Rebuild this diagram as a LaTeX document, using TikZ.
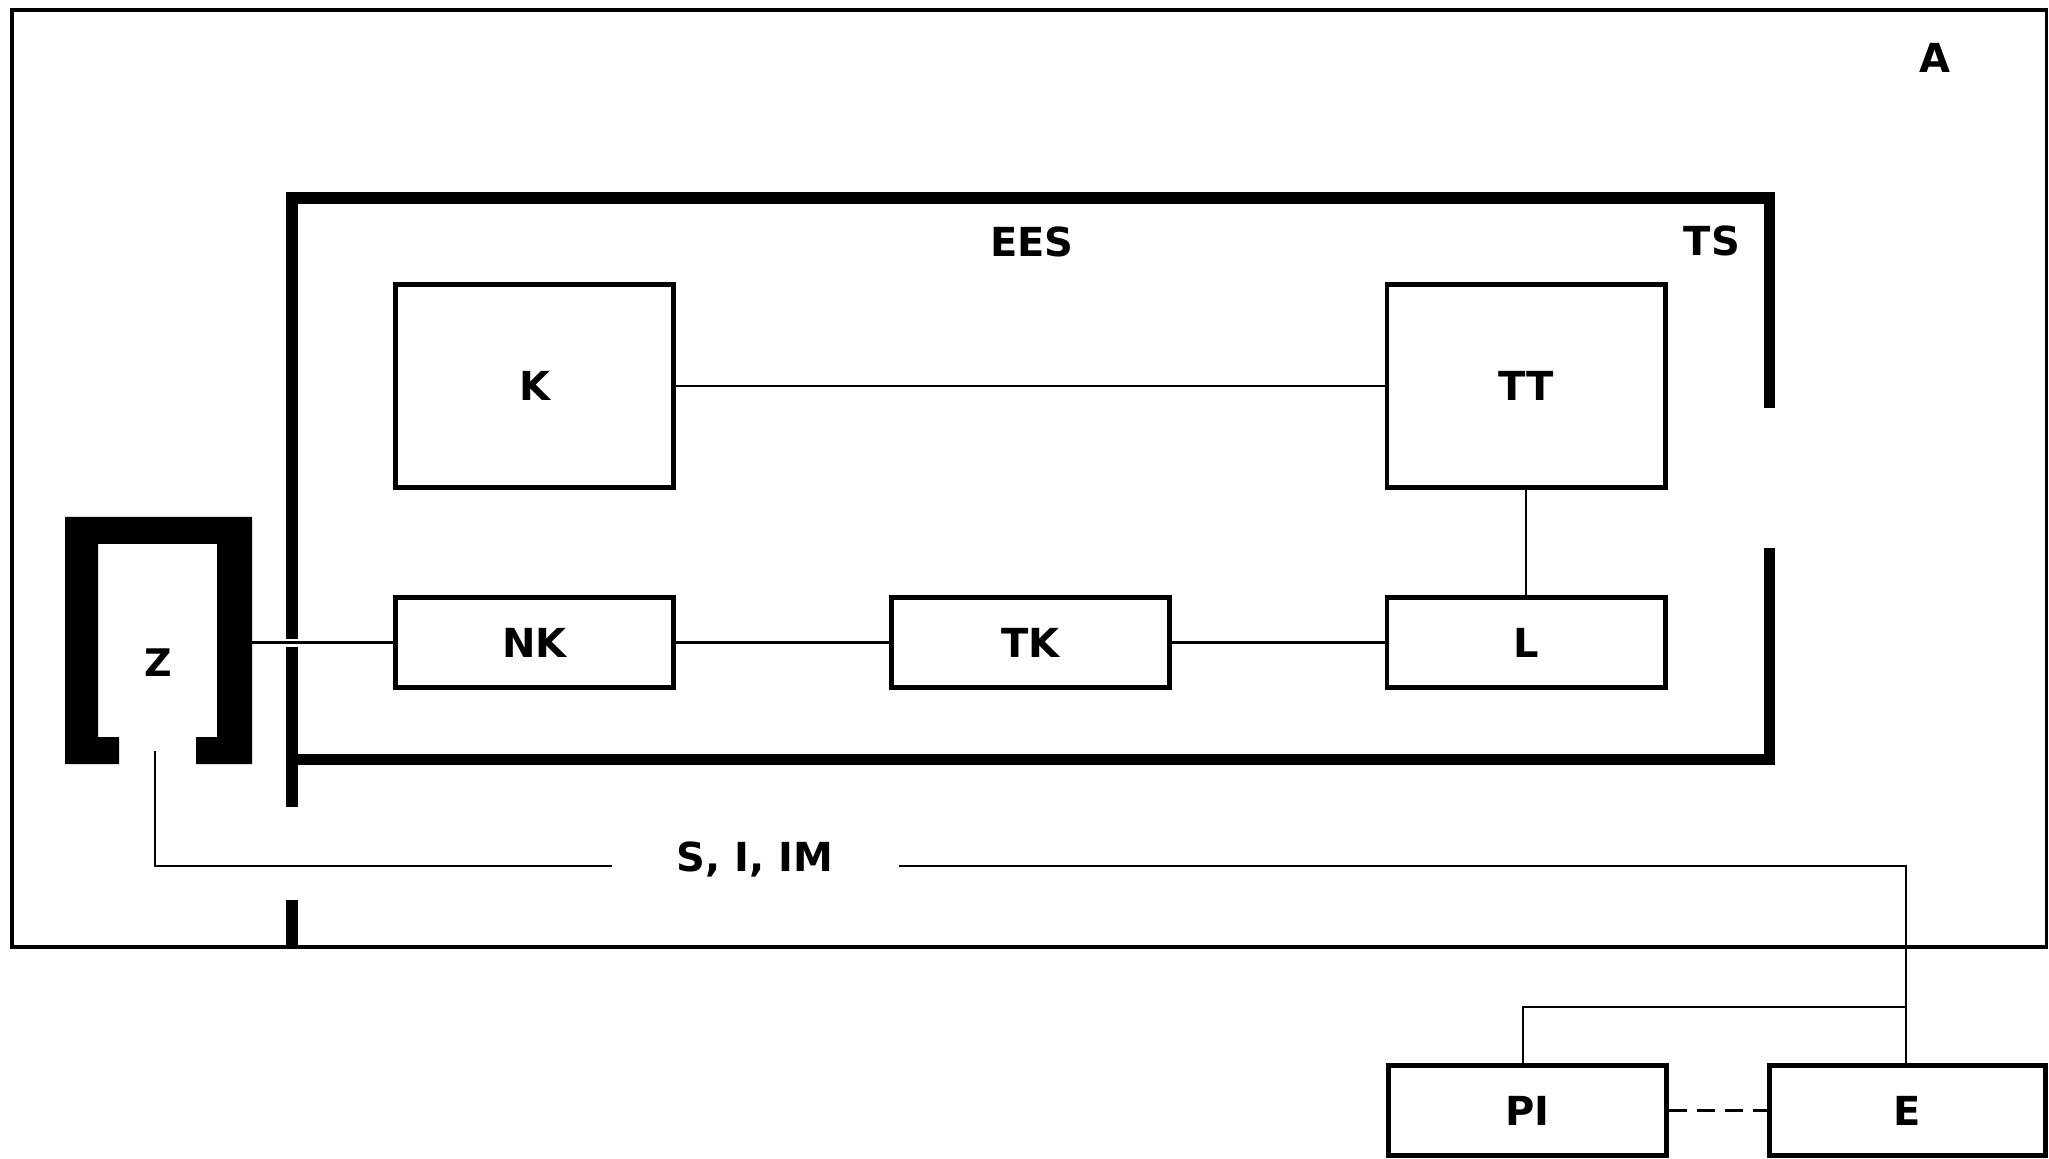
\documentclass[tikz,border=0pt]{standalone}
\usepackage{fontspec}
\setmainfont{DejaVu Sans}
\begin{document}
\begin{tikzpicture}[x=0.5pt,y=-0.5pt,
  lbl/.style={font=\fontsize{20}{24}\selectfont\bfseries, inner sep=0pt},
  bigbox/.style={draw, line width=2.4pt, minimum width=139.1pt, minimum height=101.6pt, lbl},
  smallbox/.style={draw, line width=2.4pt, minimum width=139.1pt, minimum height=45.1pt, lbl},
  conn/.style={line width=1.2pt},
  wall/.style={line width=5.75pt, line join=miter},
  outer/.style={line width=1.6pt}]
\useasboundingbox (0,0) rectangle (2049,1159);
% outer frame A
\draw[outer] (12,10) rectangle (2046.5,947);
\node[lbl] (A) at (1935,58) {A};
% EES / TS frame
\draw[wall] (292,639) -- (292,198) -- (1769.5,198) -- (1769.5,408);
\draw[wall] (1769.5,548) -- (1769.5,759.5) -- (289,759.5);
\draw[wall] (292,647) -- (292,807);
\draw[wall] (292,900) -- (292,947);
\node[lbl] (EES) at (1032,242) {EES};
\node[lbl] (TS) at (1712,241) {TS};
% boxes
\node[bigbox] (K) at (534.5,386) {K};
\node[bigbox] (TT) at (1526,386) {TT};
\node[smallbox] (NK) at (534.5,642.5) {NK};
\node[smallbox] (TK) at (1030.5,642.5) {TK};
\node[smallbox] (L) at (1526,642.5) {L};
\node[smallbox] (PI) at (1527.5,1110.5) {PI};
\node[smallbox, minimum width=138.1pt] (E) at (1907.5,1110.5) {E};
% Z bracket
\fill[black] (65,517) -- (252,517) -- (252,764) -- (196,764) -- (196,737) -- (217,737)
  -- (217,544) -- (98,544) -- (98,737) -- (119,737) -- (119,764) -- (65,764) -- cycle;
\node[lbl, font=\fontsize{19}{23}\selectfont\bfseries] (Z) at (158,663) {Z};
\coordinate (zr) at (252,642.5);
\coordinate (zb) at (155,751);
% connectors
\draw[conn] (K.east) -- (TT.west);
\draw[conn] (TT.south) -- (L.north);
\draw[conn] (zr) -- (NK.west);
\draw[conn] (NK.east) -- (TK.west);
\draw[conn] (TK.east) -- (L.west);
% S, I, IM bus
\node[lbl] (SIIM) at (755,859) {S, I, IM};
\coordinate (g1) at (612,866);
\coordinate (g2) at (899,866);
\coordinate (bus) at (1906,866);
\coordinate (br) at (1906,1007);
\coordinate (pin) at (1523,1007);
\draw[conn] (zb) |- (g1);
\draw[conn] (g2) -- (bus) -- (bus |- E.north);
\draw[conn] (br) -- (pin) -- (pin |- PI.north);
\draw[conn, dashed, dash pattern=on 9pt off 5pt] (PI.east) -- (E.west);
\end{tikzpicture}
\end{document}
